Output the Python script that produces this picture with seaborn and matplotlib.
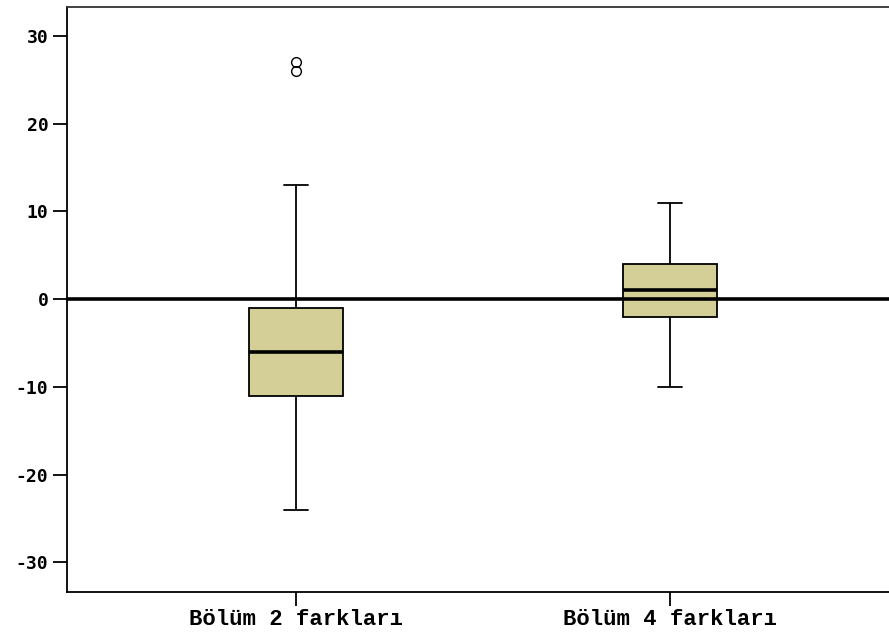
import pandas as pd
import seaborn as sns
import matplotlib.pyplot as plt

groups = ['Bölüm 2 farkları', 'Bölüm 4 farkları']
bolum2 = [-24, -16, -13, -11, -9, -7, -6, -4, -3, -1, 13, 26, 27]
bolum4 = [-10, -4, -2, 0, 1, 2, 4, 7, 11]
yticks = [-30, -20, -10, 0, 10, 20, 30]

df = pd.DataFrame({
    'grup': [groups[0]] * len(bolum2) + [groups[1]] * len(bolum4),
    'fark': bolum2 + bolum4,
})

sns.set_style('white')
plt.rcParams['axes.unicode_minus'] = False
fig = plt.figure(figsize=(8.89, 6.34), dpi=100)
ax = fig.add_axes([0.0754, 0.0662, 0.9246, 0.9227])

sns.boxplot(data=df, x='grup', y='fark', ax=ax, width=0.25, color='#d3cf96',
            saturation=1, linecolor='black', linewidth=1.3, whis=1.5,
            medianprops=dict(linewidth=2.6, color='black'),
            flierprops=dict(marker='o', markersize=7, markerfacecolor='none',
                            markeredgecolor='black', markeredgewidth=1.0),
            capwidths=0.064)

for p in ax.patches:
    p.set_edgecolor('black')

ax.axhline(0, color='black', lw=2.6, zorder=5)

ax.set_xlim(-0.612, 1.586)
ax.set_ylim(-33.4, 33.3)
ax.set_yticks(yticks)
ax.set_xlabel('')
ax.set_ylabel('')

ax.spines['right'].set_visible(False)
ax.spines['top'].set_color('#333333')
for s in ['left', 'bottom', 'top']:
    ax.spines[s].set_linewidth(1.3)
ax.spines['left'].set_color('black')
ax.spines['bottom'].set_color('black')

ax.tick_params(axis='both', direction='out', length=10, width=1.3, color='black',
               labelcolor='black', left=True, bottom=True)
ax.tick_params(axis='x', pad=2)
for lab in ax.get_yticklabels():
    lab.set_fontfamily('DejaVu Sans Mono')
    lab.set_fontweight('bold')
    lab.set_fontsize(13)
for lab in ax.get_xticklabels():
    lab.set_fontfamily('Liberation Mono')
    lab.set_fontweight('bold')
    lab.set_fontsize(16)

fig.savefig('out.png', dpi=100)
